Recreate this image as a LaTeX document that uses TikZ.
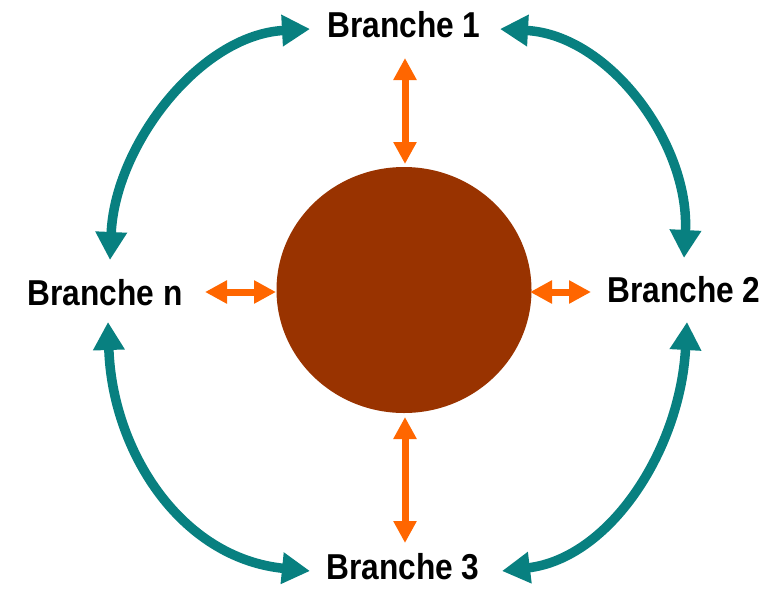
\documentclass[tikz,border=0pt]{standalone}
\usepackage{fontspec}
\usetikzlibrary{arrows.meta,shapes.geometric}
\newfontfamily\branchfont[FakeStretch=0.88]{Liberation Sans}
\definecolor{hubbrown}{HTML}{993300}
\definecolor{linkorange}{HTML}{FF6600}
\definecolor{ringteal}{HTML}{088080}
\tikzset{
  branchlabel/.style={font=\branchfont\bfseries\fontsize{36}{38}\selectfont, inner sep=0pt, anchor=base},
  spoke/.style={draw=linkorange, line width=7pt,
    {Triangle[length=22pt,width=22pt]}-{Triangle[length=22pt,width=22pt]}},
  ring/.style={draw=ringteal, line width=9.5pt,
    {Triangle[length=28pt,width=30pt]}-{Triangle[length=28pt,width=30pt]}}
}
\begin{document}
\begin{tikzpicture}[x=1pt,y=-1pt]
  \useasboundingbox (0,0) rectangle (778,589);

  % central hub
  \node[ellipse, fill=hubbrown, minimum width=255pt, minimum height=246pt, inner sep=0pt] (hub) at (404,290) {};

  % branch labels
  \node[branchlabel] (b1) at (404,37) {Branche 1};
  \node[branchlabel] (b2) at (684,302) {Branche 2};
  \node[branchlabel] (b3) at (403,579) {Branche 3};
  \node[branchlabel] (bn) at (105,305) {Branche n};

  % spoke end points
  \coordinate (s1a) at (405,58);   \coordinate (s1b) at (405,164);
  \coordinate (s3a) at (405,417);  \coordinate (s3b) at (405,543);
  \coordinate (sna) at (205,292);  \coordinate (snb) at (276,292);
  \coordinate (s2a) at (530,292);  \coordinate (s2b) at (591,292);

  % spokes between hub and branches
  \draw[spoke] (s1a) -- (s1b);
  \draw[spoke] (s3a) -- (s3b);
  \draw[spoke] (sna) -- (snb);
  \draw[spoke] (s2a) -- (s2b);

  % ring end points
  \coordinate (r1l) at (310,29);   \coordinate (rnt) at (110,260);
  \coordinate (r1r) at (500,29);   \coordinate (r2t) at (684,258);
  \coordinate (r2b) at (687,322);  \coordinate (r3r) at (502,571);
  \coordinate (rnb) at (108,322);  \coordinate (r3l) at (310,571);

  % ring links between neighbouring branches
  \draw[ring] (r1l) .. controls (200,35) and (115,145) .. (rnt);
  \draw[ring] (r1r) .. controls (610,35) and (690,145) .. (r2t);
  \draw[ring] (r2b) .. controls (680,450) and (610,558) .. (r3r);
  \draw[ring] (rnb) .. controls (112,450) and (180,558) .. (r3l);
\end{tikzpicture}
\end{document}
